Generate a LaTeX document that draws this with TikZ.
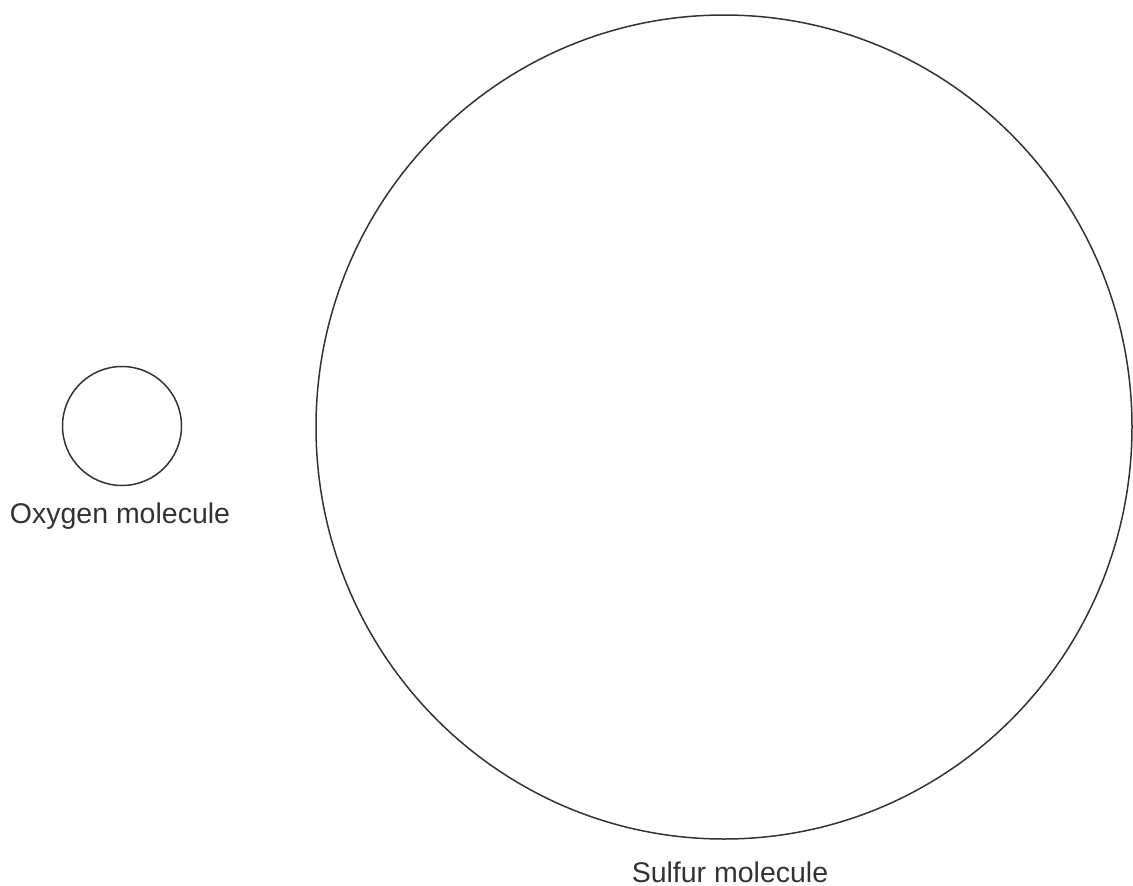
\documentclass[tikz,border=0pt]{standalone}
\usepackage{fontspec}
\setmainfont{Liberation Sans}
\begin{document}
\begin{tikzpicture}[x=1pt,y=-1pt,
  mol/.style={draw=black!80,line width=1.5pt},
  lbl/.style={font=\fontsize{28.5}{34}\selectfont,text=black!80,inner sep=0pt,anchor=base}]
\useasboundingbox (0,0) rectangle (1133,886);
\draw[mol] (122,426) circle [radius=59.5];
\draw[mol] (724,427) ellipse [x radius=408, y radius=412];
\node[lbl] (ox) at (120,523) {Oxygen molecule};
\node[lbl] (su) at (730,882) {Sulfur molecule};
\end{tikzpicture}
\end{document}
